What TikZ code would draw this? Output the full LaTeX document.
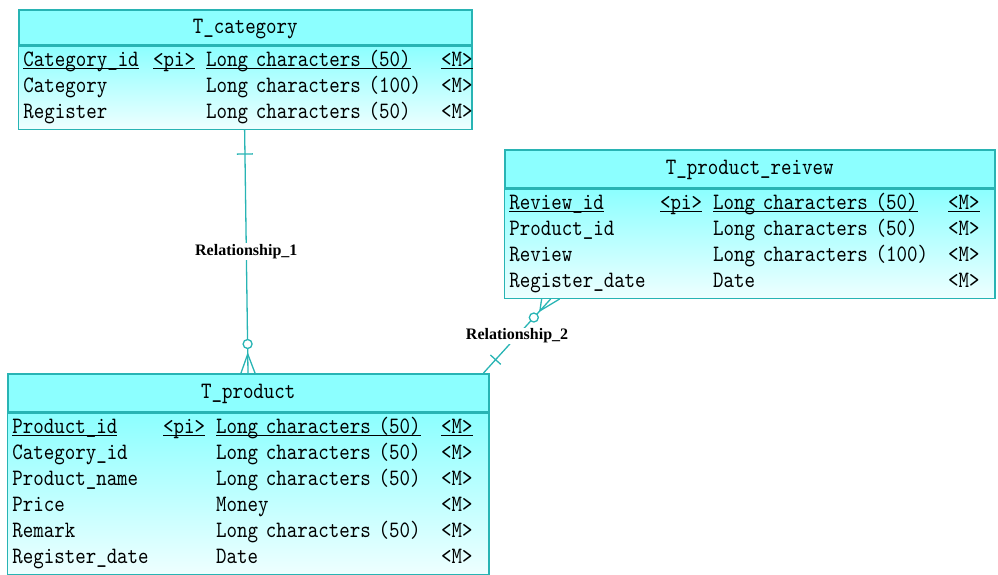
\documentclass[tikz,border=0pt]{standalone}
\usepackage{fontspec}
\usepackage{tikz}
\usetikzlibrary{positioning,calc,matrix}
\newfontfamily\erfont[FakeStretch=0.85]{lmmono10-regular.otf}
\newfontfamily\relfont{Liberation Serif}
\definecolor{erline}{RGB}{40,180,180}
\definecolor{ercyan}{RGB}{140,255,255}
\definecolor{erpale}{RGB}{238,255,255}
\newsavebox\pkbox
\newcommand{\pk}[1]{\sbox\pkbox{#1}\rlap{\rule[-2.5pt]{\wd\pkbox}{1.1pt}}\usebox\pkbox}

\begin{document}
\begin{tikzpicture}[x=1pt,y=-1pt,
    tblhead/.style={draw=erline, fill=ercyan, line width=1.5pt, inner sep=0pt, anchor=north west,
        text height=19pt, text depth=7pt, font=\erfont\fontsize{23.5}{26}\selectfont},
    tblbody/.style={matrix of nodes, draw=erline, line width=1.5pt, top color=ercyan, bottom color=erpale,
        inner xsep=5pt, inner ysep=2.5pt, font=\erfont\fontsize{23.5}{26}\selectfont,
        nodes={inner sep=0pt, anchor=base west, text height=18pt, text depth=8pt, align=left}},
    relline/.style={draw=erline, line width=1.3pt},
    rellabel/.style={fill=white, inner sep=1pt, font=\relfont\bfseries\fontsize{16}{16}\selectfont}]
    \useasboundingbox (0,0) rectangle (998,574);

    % T_category
    \node[tblhead, minimum width=453pt, minimum height=35pt] (cat-head) at (18,9) {T\_category};
    \matrix (cat-body) [tblbody, below=0pt of cat-head,
        column 1/.style={nodes={text width=129pt}}, column 2/.style={nodes={text width=53pt}},
        column 3/.style={nodes={text width=235pt}}, column 4/.style={nodes={text width=26pt}}] {
        \pk{Category\_id} & \pk{<pi>} & \pk{Long characters (50)} & \pk{<M>} \\
        Category & & Long characters (100) & <M> \\
        Register & & Long characters (50) & <M> \\
    };

    % T_product_reivew
    \node[tblhead, minimum width=490pt, minimum height=38pt] (rev-head) at (504,149) {T\_product\_reivew};
    \matrix (rev-body) [tblbody, below=0pt of rev-head,
        column 1/.style={nodes={text width=150pt}}, column 2/.style={nodes={text width=53pt}},
        column 3/.style={nodes={text width=235pt}}, column 4/.style={nodes={text width=42pt}}] {
        \pk{Review\_id} & \pk{<pi>} & \pk{Long characters (50)} & \pk{<M>} \\
        Product\_id & & Long characters (50) & <M> \\
        Review & & Long characters (100) & <M> \\
        Register\_date & & Date & <M> \\
    };

    % T_product
    \node[tblhead, minimum width=481pt, minimum height=38pt] (prod-head) at (7,373) {T\_product};
    \matrix (prod-body) [tblbody, below=0pt of prod-head,
        column 1/.style={nodes={text width=150pt}}, column 2/.style={nodes={text width=53pt}},
        column 3/.style={nodes={text width=225pt}}, column 4/.style={nodes={text width=43pt}}] {
        \pk{Product\_id} & \pk{<pi>} & \pk{Long characters (50)} & \pk{<M>} \\
        Category\_id & & Long characters (50) & <M> \\
        Product\_name & & Long characters (50) & <M> \\
        Price & & Money & <M> \\
        Remark & & Long characters (50) & <M> \\
        Register\_date & & Date & <M> \\
    };

    % relationships
    \coordinate (r1-top) at ($(cat-body.south west)+(227,0)$);
    \coordinate (r1-bot) at ($(prod-head.north west)+(241,0)$);
    \coordinate (r2-top) at ($(rev-body.south west)+(47,0)$);
    \coordinate (r2-bot) at ($(prod-head.north east)+(-6,0)$);

    \draw[relline] (r1-top) -- node[rellabel] {Relationship\_1} (r1-bot);
    \draw[relline] (r2-top) -- node[rellabel] {Relationship\_2} (r2-bot);

    % one-side bars
    \coordinate (r1-bar) at ($(r1-top)!24pt!(r1-bot)$);
    \draw[relline] ($(r1-bar)!8pt!90:(r1-bot)$) -- ($(r1-bar)!8pt!-90:(r1-bot)$);
    \coordinate (r2-bar) at ($(r2-bot)!18pt!(r2-top)$);
    \draw[relline] ($(r2-bar)!7pt!90:(r2-top)$) -- ($(r2-bar)!7pt!-90:(r2-top)$);

    % many-side crow's feet
    \coordinate (r1-apex) at ($(r1-bot)!19pt!(r1-top)$);
    \draw[relline] ($(r1-bot)+(-7,0)$) -- (r1-apex) -- ($(r1-bot)+(7,0)$);
    \draw[relline, fill=white] ($(r1-bot)!29pt!(r1-top)$) circle[radius=4.5pt];
    \coordinate (r2-apex) at ($(r2-top)!16pt!(r2-bot)$);
    \draw[relline] ($(r2-top)+(-9,0)$) -- (r2-apex) -- ($(r2-top)+(9,0)$);
    \draw[relline, fill=white] ($(r2-top)!25pt!(r2-bot)$) circle[radius=4.5pt];
\end{tikzpicture}
\end{document}
